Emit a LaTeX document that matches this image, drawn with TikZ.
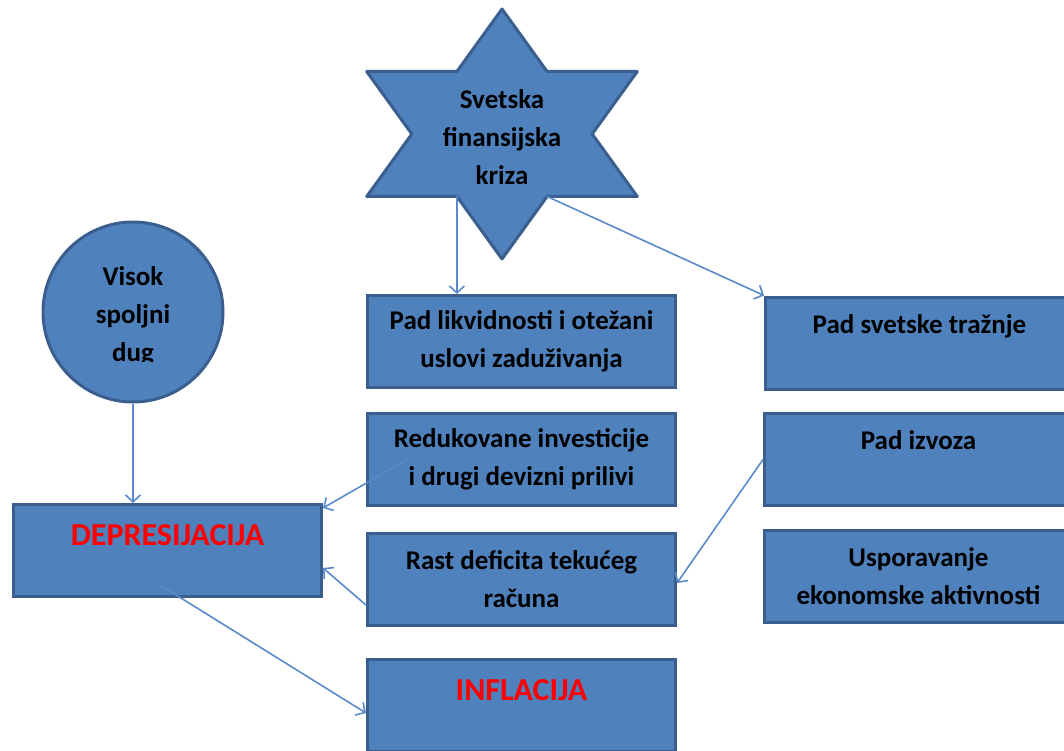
\documentclass[tikz,border=0pt]{standalone}
\usepackage{fontspec}
\setmainfont{Carlito}
\usetikzlibrary{arrows.meta,calc}
\definecolor{boxfill}{HTML}{4F81BD}
\definecolor{boxline}{HTML}{3A5F8E}
\definecolor{arr}{HTML}{5A8ACB}
\definecolor{redtext}{HTML}{FF0000}
\begin{document}
\begin{tikzpicture}[x=1pt,y=-1pt,
  shapefill/.style={draw=boxline, line width=3pt, fill=boxfill},
  txt/.style={align=center, font=\bfseries\fontsize{27}{38}\selectfont, inner sep=0pt},
  box/.style={shapefill, minimum width=308pt, minimum height=92pt, txt},
  redbox/.style={box, text=redtext, font=\bfseries\fontsize{32}{31}\selectfont},
  conn/.style={draw=arr, line width=1.6pt, -{Straight Barb[length=7pt,width=15pt]}}
]
\useasboundingbox (0,0) rectangle (1064,751);
\clip (0,0) rectangle (1064,751);

% star
\draw[shapefill, line join=round]
  (502,9) -- (547.1,71.5) -- (637.3,71.5) -- (592.2,134) -- (637.3,196.5)
  -- (547.1,196.5) -- (502,259) -- (456.9,196.5) -- (366.7,196.5)
  -- (411.8,134) -- (366.7,71.5) -- (456.9,71.5) -- cycle;
\coordinate (s1) at (456.9,196.5);
\coordinate (s2) at (547.1,196.5);
\node[txt] (star) at (502,137) {Svetska\\finansijska\\kriza};

% circle
\node[shapefill, circle, minimum size=180pt] (circ) at (133,312) {};
\begin{scope}
  \clip (0,0) rectangle (1064,361);
  \node[txt] (circtxt) at (133,316) {Visok\\spoljni\\dug};
\end{scope}

% boxes
\node[box] (likv) at (521.5,341.5) {Pad likvidnosti i otežani\\uslovi zaduživanja};
\node[box] (redu) at (521.5,459.5) {Redukovane investicije\\i drugi devizni prilivi};
\node[box] (rast) at (521.5,579) {Rast deficita tekućeg\\računa};
\node[redbox] (infl) at (521.5,705) {INFLACIJA\\~};
\node[redbox] (dep) at (167.5,550.5) {DEPRESIJACIJA\\~};
\node[box] (svet) at (919.5,343) {Pad svetske tražnje\\~};
\node[box] (izv) at (918.5,459.5) {Pad izvoza\\~};
\node[box] (usp) at (918.5,576) {Usporavanje\\ekonomske aktivnosti};

% connectors
\draw[conn] (s1) -- (s1 |- likv.north);
\draw[conn] (s2) -- (svet.north west);
\draw[conn] (circ.south) -- (circ.south |- dep.north);
\draw[conn] ([xshift=44pt,yshift=1.5pt]redu.west) -- ([yshift=-5pt]dep.north east);
\draw[conn] ([yshift=-26pt]rast.west) -- ([yshift=-17.5pt]dep.east);
\draw[conn] ([xshift=-7.5pt,yshift=-34.5pt]dep.center) -- ([yshift=-8pt]infl.west);
\draw[conn] (izv.west) -- ([yshift=-4pt]rast.east);
\end{tikzpicture}
\end{document}
